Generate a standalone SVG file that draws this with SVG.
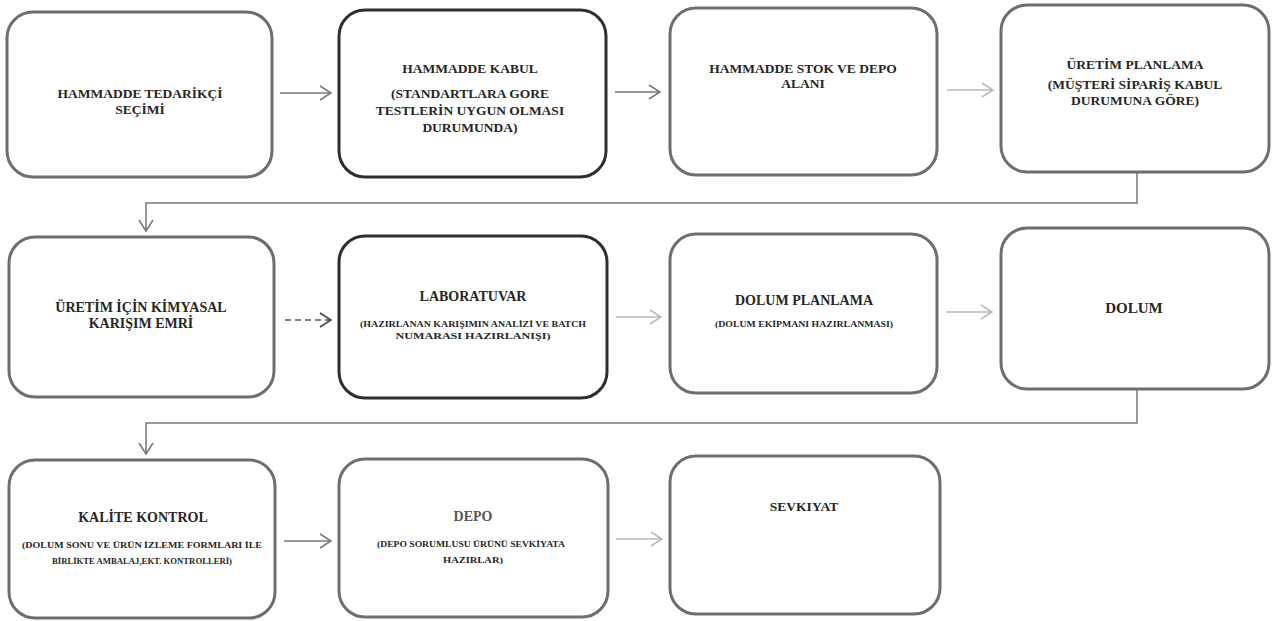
<svg xmlns="http://www.w3.org/2000/svg" width="1279" height="621" viewBox="0 0 1279 621">
<style>
.box{fill:#fff;stroke:#6e6e6e;stroke-width:3}
.dark{stroke:#2e2e2e}
.t{font-family:"Liberation Serif","DejaVu Serif",serif;font-weight:bold;fill:#262626;text-anchor:middle;font-size:13.5px}
.big{font-size:14px}
.s{font-size:8px}
.c{fill:none;stroke:#777;stroke-width:1.5}
.lt{stroke:#b8b8b8}
.dash{stroke-dasharray:6 4;stroke:#555}
</style>
<defs>
<marker id="ah" markerWidth="14" markerHeight="16" refX="12" refY="8" orient="auto" markerUnits="userSpaceOnUse">
<path d="M1,1 L12,8 L1,15" fill="none" stroke="#777" stroke-width="1.5"/>
</marker>
<marker id="ahl" markerWidth="14" markerHeight="16" refX="12" refY="8" orient="auto" markerUnits="userSpaceOnUse">
<path d="M1,1 L12,8 L1,15" fill="none" stroke="#b8b8b8" stroke-width="1.5"/>
</marker>
<marker id="ahd" markerWidth="14" markerHeight="16" refX="12" refY="8" orient="auto" markerUnits="userSpaceOnUse">
<path d="M1,1 L12,8 L1,15" fill="none" stroke="#444" stroke-width="1.5"/>
</marker>
</defs>
<rect width="1279" height="621" fill="#fff"/>
<g id="connectors">
<path class="c" d="M280,93 H331" marker-end="url(#ah)"/>
<path class="c" d="M615,92 H660" marker-end="url(#ah)"/>
<path class="c lt" d="M947,90 H993" marker-end="url(#ahl)"/>
<path class="c" d="M1137,173 V203 H146 V231" marker-end="url(#ah)"/>
<path class="c dash" d="M285,320 H331" marker-end="url(#ahd)"/>
<path class="c lt" d="M616,317 H661" marker-end="url(#ahl)"/>
<path class="c lt" d="M946,312 H992" marker-end="url(#ahl)"/>
<path class="c" d="M1137,390 V423 H146 V454" marker-end="url(#ah)"/>
<path class="c" d="M284,541 H331" marker-end="url(#ah)"/>
<path class="c lt" d="M616,539 H662" marker-end="url(#ahl)"/>
</g>
<g id="n1"><rect class="box" x="7" y="12" width="265" height="165" rx="26"/>
<text class="t" x="140" y="98">HAMMADDE TEDARİKÇİ</text><text class="t" x="140" y="114">SEÇİMİ</text></g>
<g id="n2"><rect class="box dark" x="339" y="10" width="267" height="167" rx="26"/>
<text class="t" x="470" y="73">HAMMADDE KABUL</text><text class="t" x="470" y="98">(STANDARTLARA GORE</text><text class="t" x="470" y="115">TESTLERİN UYGUN OLMASI</text><text class="t" x="470" y="132">DURUMUNDA)</text></g>
<g id="n3"><rect class="box" x="670" y="8" width="267" height="167" rx="26"/>
<text class="t" x="803" y="73">HAMMADDE STOK VE DEPO</text><text class="t" x="803" y="88">ALANI</text></g>
<g id="n4"><rect class="box" x="1001" y="5" width="268" height="167" rx="26"/>
<text class="t" x="1135" y="69">ÜRETİM PLANLAMA</text><text class="t" x="1135" y="89">(MÜŞTERİ SİPARİŞ KABUL</text><text class="t" x="1135" y="105">DURUMUNA GÖRE)</text></g>
<g id="n5"><rect class="box" x="9" y="237" width="265" height="160" rx="26"/>
<text class="t big" x="141" y="312">ÜRETİM İÇİN KİMYASAL</text><text class="t big" x="141" y="328">KARIŞIM EMRİ</text></g>
<g id="n6"><rect class="box dark" x="339" y="236" width="268" height="162" rx="26"/>
<text class="t big" x="473" y="301">LABORATUVAR</text><text class="t s" x="473" y="327" textLength="226" lengthAdjust="spacingAndGlyphs">(HAZIRLANAN KARIŞIMIN ANALİZİ VE BATCH</text><text class="t s" x="473" y="339" textLength="155" lengthAdjust="spacingAndGlyphs">NUMARASI HAZIRLANIŞI)</text></g>
<g id="n7"><rect class="box" x="670" y="234" width="267" height="159" rx="26"/>
<text class="t big" x="804" y="305">DOLUM PLANLAMA</text><text class="t s" x="804" y="327" textLength="178" lengthAdjust="spacingAndGlyphs">(DOLUM EKİPMANI HAZIRLANMASI)</text></g>
<g id="n8"><rect class="box" x="1001" y="228" width="268" height="161" rx="26"/>
<text class="t" x="1134" y="313" style="font-size:15px">DOLUM</text></g>
<g id="n9"><rect class="box" x="9" y="460" width="266" height="158" rx="26"/>
<text class="t big" x="143" y="522">KALİTE KONTROL</text><text class="t s" x="142" y="548" textLength="240" lengthAdjust="spacingAndGlyphs">(DOLUM SONU VE ÜRÜN İZLEME FORMLARI İLE</text><text class="t s" x="142" y="564" textLength="180" lengthAdjust="spacingAndGlyphs">BİRLİKTE AMBALAJ,EKT. KONTROLLERİ)</text></g>
<g id="n10"><rect class="box" x="339" y="459" width="269" height="158" rx="26"/>
<text class="t big" x="473" y="521" style="fill:#555">DEPO</text><text class="t s" x="471" y="547" textLength="188" lengthAdjust="spacingAndGlyphs">(DEPO SORUMLUSU ÜRÜNÜ SEVKİYATA</text><text class="t s" x="473" y="563" textLength="60" lengthAdjust="spacingAndGlyphs">HAZIRLAR)</text></g>
<g id="n11"><rect class="box" x="670" y="456" width="270" height="158" rx="26"/>
<text class="t" x="804" y="511">SEVKIYAT</text></g>
</svg>
